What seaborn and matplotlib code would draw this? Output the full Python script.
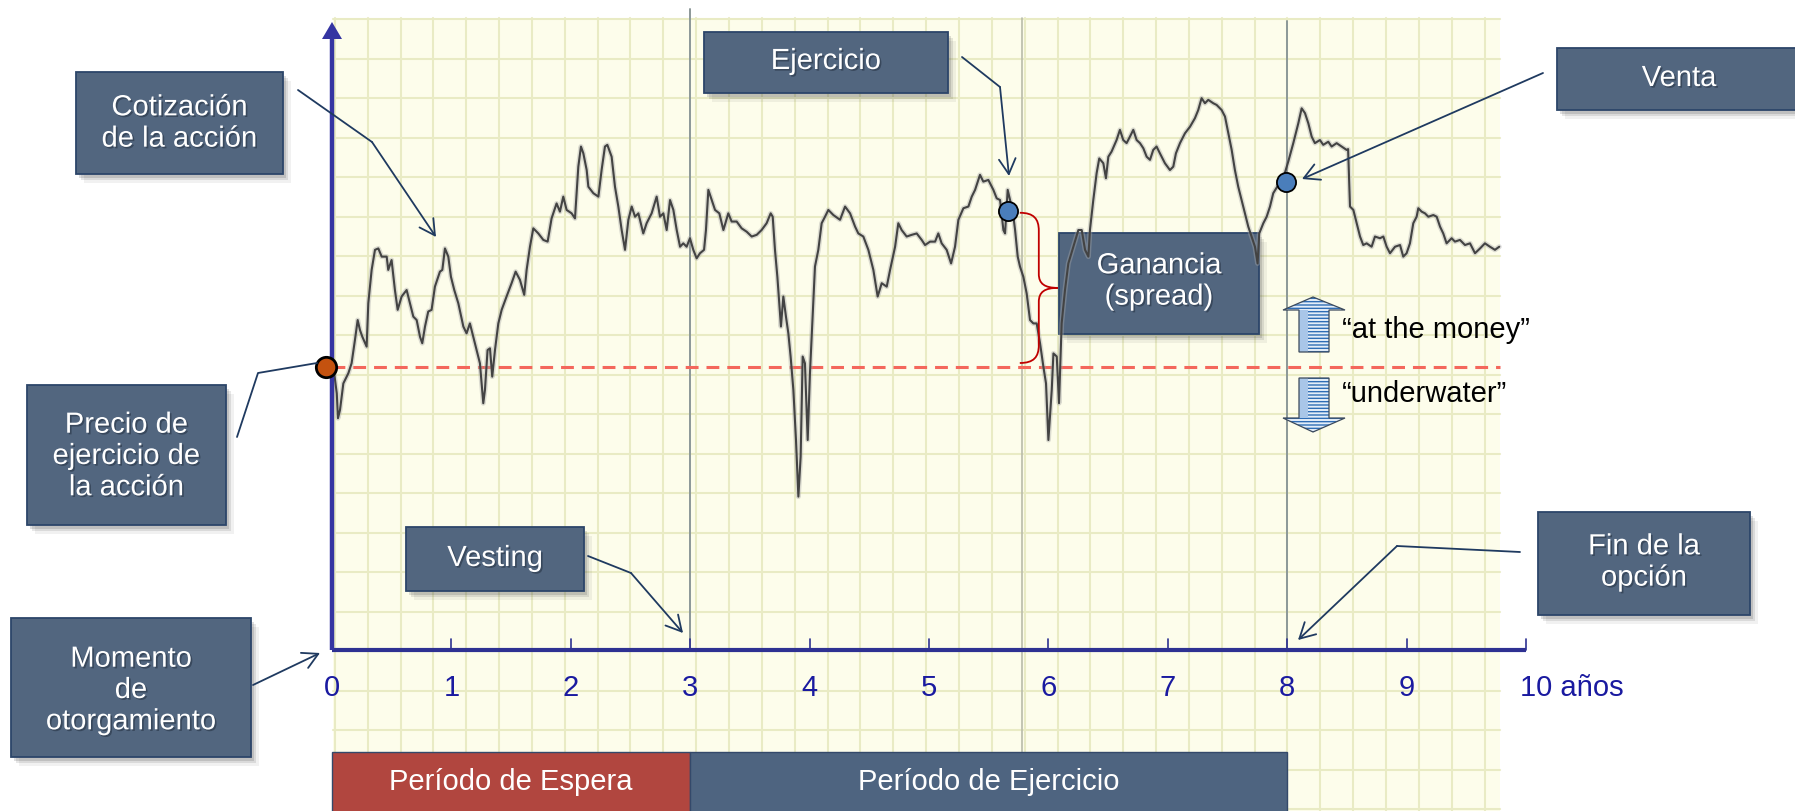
import numpy as np
import pandas as pd
import matplotlib
matplotlib.use("Agg")
import matplotlib.pyplot as plt
import seaborn as sns
from matplotlib.patches import Rectangle, Polygon, PathPatch
from matplotlib.path import Path
import matplotlib.patheffects as pe

# ---------------------------------------------------------------- data
years = [
    0.000, 0.020, 0.040, 0.050, 0.067, 0.095, 0.137, 0.164, 0.192, 0.215,
    0.234, 0.254, 0.290, 0.304, 0.332, 0.360, 0.388, 0.416, 0.458, 0.471,
    0.499, 0.527, 0.550, 0.583, 0.625, 0.653, 0.681, 0.709, 0.737, 0.756,
    0.779, 0.806, 0.834, 0.862, 0.904, 0.924, 0.946, 0.974, 0.996, 1.024,
    1.058, 1.100, 1.127, 1.155, 1.183, 1.211, 1.239, 1.253, 1.267, 1.281,
    1.303, 1.323, 1.342, 1.365, 1.393, 1.421, 1.462, 1.504, 1.538, 1.574,
    1.610, 1.630, 1.658, 1.686, 1.728, 1.770, 1.806, 1.839, 1.881, 1.909,
    1.937, 1.965, 2.007, 2.035, 2.063, 2.085, 2.105, 2.133, 2.147, 2.189,
    2.231, 2.258, 2.286, 2.306, 2.342, 2.370, 2.398, 2.426, 2.454, 2.482,
    2.510, 2.538, 2.566, 2.607, 2.635, 2.677, 2.719, 2.747, 2.775, 2.803,
    2.831, 2.859, 2.887, 2.915, 2.942, 2.970, 2.998, 3.026, 3.054, 3.082,
    3.116, 3.132, 3.152, 3.180, 3.208, 3.244, 3.278, 3.319, 3.347, 3.389,
    3.431, 3.473, 3.515, 3.557, 3.598, 3.640, 3.674, 3.691, 3.710, 3.730,
    3.746, 3.760, 3.780, 3.802, 3.822, 3.841, 3.864, 3.886, 3.906, 3.925,
    3.942, 3.961, 3.984, 4.003, 4.023, 4.045, 4.073, 4.101, 4.129, 4.157,
    4.199, 4.255, 4.297, 4.339, 4.381, 4.408, 4.450, 4.492, 4.534, 4.570,
    4.604, 4.646, 4.674, 4.716, 4.743, 4.771, 4.813, 4.855, 4.897, 4.939,
    4.967, 5.009, 5.051, 5.078, 5.106, 5.148, 5.185, 5.218, 5.246, 5.288,
    5.330, 5.358, 5.386, 5.427, 5.455, 5.497, 5.539, 5.567, 5.595, 5.623,
    5.637, 5.659, 5.679, 5.707, 5.721, 5.743, 5.762, 5.790, 5.818, 5.846,
    5.874, 5.902, 5.930, 5.958, 5.980, 6.000, 6.028, 6.042, 6.070, 6.089,
    6.111, 6.139, 6.167, 6.209, 6.251, 6.279, 6.307, 6.335, 6.348, 6.376,
    6.404, 6.426, 6.460, 6.482, 6.502, 6.529, 6.571, 6.599, 6.627, 6.655,
    6.683, 6.711, 6.739, 6.767, 6.795, 6.823, 6.851, 6.878, 6.906, 6.934,
    6.976, 7.018, 7.046, 7.068, 7.102, 7.144, 7.186, 7.227, 7.255, 7.283,
    7.311, 7.339, 7.381, 7.409, 7.451, 7.479, 7.507, 7.535, 7.562, 7.590,
    7.618, 7.646, 7.674, 7.702, 7.730, 7.752, 7.766, 7.800, 7.828, 7.856,
    7.883, 7.925, 7.967, 8.009, 8.051, 8.093, 8.121, 8.149, 8.177, 8.205,
    8.232, 8.274, 8.302, 8.344, 8.372, 8.414, 8.456, 8.498, 8.510, 8.526,
    8.554, 8.582, 8.610, 8.637, 8.665, 8.707, 8.735, 8.777, 8.805, 8.833,
    8.861, 8.903, 8.945, 8.972, 9.000, 9.028, 9.056, 9.084, 9.098, 9.126,
    9.154, 9.182, 9.224, 9.252, 9.280, 9.307, 9.335, 9.377, 9.405, 9.447,
    9.489, 9.531, 9.573, 9.615, 9.656, 9.698, 9.740, 9.776,
]
price = [
    100.0, 97.2, 90.7, 81.9, 84.8, 94.2, 97.8, 101.3, 109.5, 116.6,
    113.1, 110.7, 107.2, 122.5, 134.3, 141.4, 141.9, 139.0, 139.0, 134.3,
    137.8, 127.2, 120.2, 124.9, 127.2, 122.5, 117.8, 116.6, 110.7, 108.4,
    114.3, 119.6, 120.2, 128.4, 133.7, 134.3, 141.9, 139.0, 131.9, 127.2,
    122.5, 114.3, 111.9, 115.4, 110.7, 106.0, 101.3, 94.2, 87.2, 91.9,
    106.0, 106.6, 96.6, 106.0, 115.4, 120.2, 124.9, 129.6, 133.7, 130.8,
    125.5, 134.3, 142.5, 149.0, 147.2, 144.9, 144.3, 152.5, 157.8, 154.9,
    160.2, 155.5, 154.3, 152.5, 170.8, 177.9, 175.5, 169.6, 163.7, 161.4,
    160.2, 169.6, 177.9, 178.5, 174.3, 163.7, 156.7, 148.4, 141.4, 152.0,
    156.7, 153.1, 154.3, 147.2, 150.8, 154.3, 160.2, 153.1, 154.3, 148.4,
    159.0, 155.5, 148.4, 142.5, 143.7, 142.5, 145.5, 141.4, 138.4, 140.2,
    141.4, 148.4, 162.6, 159.0, 155.5, 154.3, 148.4, 154.3, 151.4, 151.4,
    149.0, 147.8, 146.1, 146.7, 148.4, 150.8, 154.3, 153.1, 141.4, 131.9,
    122.5, 114.3, 124.9, 117.8, 111.9, 103.7, 91.9, 74.2, 54.2, 68.3,
    103.7, 101.3, 74.2, 97.8, 115.4, 135.5, 141.4, 150.8, 153.1, 155.5,
    153.7, 152.0, 156.7, 154.3, 149.6, 147.2, 146.1, 141.4, 134.3, 124.9,
    129.6, 128.4, 134.3, 142.5, 150.8, 148.4, 146.1, 146.7, 147.2, 144.9,
    143.1, 144.3, 144.3, 147.2, 143.7, 141.4, 136.6, 142.5, 152.0, 156.1,
    156.7, 160.2, 162.6, 167.9, 165.5, 166.1, 162.6, 159.6, 159.0, 148.4,
    147.2, 162.6, 159.0, 153.1, 148.4, 139.0, 135.5, 131.9, 126.0, 116.6,
    115.4, 115.4, 108.4, 100.1, 94.2, 74.2, 91.9, 104.8, 103.7, 87.2,
    115.4, 127.2, 136.6, 142.5, 148.4, 148.4, 141.4, 139.0, 148.4, 159.0,
    168.5, 173.7, 172.0, 166.7, 174.3, 176.1, 180.2, 183.8, 180.2, 179.1,
    181.4, 183.8, 180.2, 179.1, 177.3, 174.3, 173.2, 176.7, 177.9, 175.5,
    172.0, 169.6, 170.8, 175.5, 179.1, 182.6, 184.9, 187.9, 190.8, 195.0,
    193.2, 194.4, 193.2, 192.6, 190.8, 188.5, 182.6, 176.7, 169.6, 163.7,
    159.0, 154.3, 149.6, 146.1, 142.5, 136.6, 147.2, 150.8, 153.1, 156.7,
    161.4, 164.3, 166.7, 172.6, 179.1, 186.1, 191.4, 189.7, 186.1, 181.4,
    179.1, 180.2, 178.5, 179.6, 177.9, 179.1, 177.9, 176.7, 177.0, 156.7,
    155.5, 150.8, 146.1, 143.1, 143.7, 142.5, 146.1, 145.5, 146.1, 142.5,
    140.2, 142.5, 143.1, 139.0, 140.2, 143.7, 150.8, 153.1, 156.1, 154.9,
    154.3, 153.1, 153.7, 153.1, 149.6, 147.2, 143.7, 145.5, 144.3, 144.9,
    143.1, 143.7, 140.2, 141.9, 143.7, 142.5, 141.4, 142.5,
]

strike_price = 100.0
event_years = [5.66, 7.99]          # ejercicio, venta
event_prices = [155.2, 165.5]
vesting_year = 3
option_end_year = 8
axis_end_year = 10

tick_years = list(range(0, 10))
tick_labels = [str(v) for v in tick_years]
last_tick_label = "10 años"

period_labels = ["Período de Espera", "Período de Ejercicio"]
period_start = [0, 3]
period_end = [3, 8]

# ---------------------------------------------------------------- canvas
W, H = 1795, 811
sns.set_style("white")
plt.rcParams["font.family"] = ["Liberation Sans", "DejaVu Sans"]
plt.rcParams["hatch.linewidth"] = 1.0

fig = plt.figure(figsize=(W / 100, H / 100), dpi=100)
ax = fig.add_axes([0, 0, 1, 1])

X0, PX_PER_YEAR = 332, 119.4     # pixel column of year 0, pixels per year
Y0, PX_PER_UNIT = 650, 2.83      # pixel row of the time axis, pixels per price unit


def d(xp, yp):
    """Pixel position on the canvas -> data coordinates."""
    return ((xp - X0) / PX_PER_YEAR, (Y0 - yp) / PX_PER_UNIT)


def dx(w):
    return w / PX_PER_YEAR


def dy(h):
    return h / PX_PER_UNIT


NAVY = "#1F3A60"
BOX = "#52667F"
BOX_EDGE = "#2C4569"
AXIS = "#2E3192"

# ---------------------------------------------------------------- graph paper
paper_l, paper_r, paper_t, paper_b = 333, 1500, 18, 811
ax.add_patch(Rectangle(d(paper_l, paper_b), dx(paper_r - paper_l), dy(paper_b - paper_t),
                       fc="#FDFDEB", ec="none", zorder=0))
for xp in np.arange(334.8, paper_r, 32.85):
    ax.plot([d(xp, 0)[0]] * 2, [d(0, paper_b)[1], d(0, paper_t)[1]],
            color="#E9EBC4", lw=1.5, zorder=0.5)
for yp in np.arange(19.3, paper_b, 39.5):
    ax.plot([d(paper_l, 0)[0], d(paper_r, 0)[0]], [d(0, yp)[1]] * 2,
            color="#E9EBC4", lw=1.5, zorder=0.5)
ax.plot([d(1022, 0)[0]] * 2, [d(0, paper_b)[1], d(0, paper_t)[1]],
        color="#B9BCAA", lw=1.2, zorder=0.6)

# vesting date and end of the option
ax.plot([vesting_year] * 2, [0, d(0, 9)[1]], color="#8C9898", lw=1.4, zorder=0.7)
ax.plot([option_end_year] * 2, [0, d(0, 21)[1]], color="#8C9898", lw=1.4, zorder=0.7)

# strike price
ax.plot([0, d(paper_r, 0)[0]], [strike_price] * 2, color="#F4675C", lw=2.2,
        dashes=(4.2, 2.6), zorder=3)


# ---------------------------------------------------------------- boxes
def box(x0, y0, x1, y1, text, tx=None, ty=None, fc=BOX, z=4):
    for off, a in ((3, 0.16), (5, 0.12), (8, 0.07)):
        ax.add_patch(Rectangle(d(x0 + off, y1 + off + 1), dx(x1 - x0), dy(y1 - y0),
                               fc="#3A3A3A", ec="none", alpha=a, zorder=z - 0.1))
    ax.add_patch(Rectangle(d(x0, y1), dx(x1 - x0), dy(y1 - y0),
                           fc=fc, ec=BOX_EDGE, lw=1.3, zorder=z))
    tx = (x0 + x1) / 2 if tx is None else tx
    ty = (y0 + y1) / 2 if ty is None else ty
    ax.text(*d(tx, ty), text, ha="center", va="center", color="white", fontsize=21,
            linespacing=1.15, zorder=z + 0.1,
            path_effects=[pe.withSimplePatchShadow(offset=(1.2, -1.2),
                                                   shadow_rgbFace="#1A2433", alpha=0.45)])


box(76, 72, 283, 174, "Cotización\nde la acción")
box(27, 385, 226, 525, "Precio de\nejercicio de\nla acción", ty=456)
box(11, 618, 251, 757, "Momento\nde\notorgamiento", ty=690)
box(704, 32, 948, 93, "Ejercicio", ty=61)
box(406, 527, 584, 591, "Vesting", ty=558)
box(1059, 233, 1259, 334, "Ganancia\n(spread)", ty=281)
box(1557, 48, 1810, 110, "Venta", tx=1679, ty=78)
box(1538, 512, 1750, 615, "Fin de la\nopción", tx=1644, ty=562)

# ---------------------------------------------------------------- period bars
bar_top, bar_bot = 752, 835
ax.barh(y=[d(0, (bar_top + bar_bot) / 2)[1]] * 2,
        width=np.subtract(period_end, period_start), left=period_start,
        height=dy(bar_bot - bar_top), color=["#B1463F", "#4E6480"],
        edgecolor="#34496A", linewidth=1.0, zorder=4)
for lab, s, e in zip(period_labels, period_start, period_end):
    ax.text((s + e) / 2, d(0, 782)[1], lab, ha="center", va="center", color="white",
            fontsize=21, zorder=5)

# ---------------------------------------------------------------- price series
df = pd.DataFrame({"year": years, "price": price})
sns.lineplot(data=df, x="year", y="price", ax=ax, color="#A8A8A8", lw=3.6, alpha=0.4,
             estimator=None, sort=False, zorder=5)
sns.lineplot(data=df, x="year", y="price", ax=ax, color="#434343", lw=1.5,
             estimator=None, sort=False, zorder=6)

# ---------------------------------------------------------------- axes
ax.plot([0, axis_end_year], [0, 0], color=AXIS, lw=3.0, solid_capstyle="butt", zorder=7)
for t in list(range(1, axis_end_year + 1)):
    ax.plot([t, t], [0, dy(11)], color=AXIS, lw=1.2, zorder=7)
ax.plot([0, 0], [0, d(0, 38)[1]], color="#3535A2", lw=3.2, solid_capstyle="butt", zorder=7)
ax.add_patch(Polygon([d(322, 39), d(342, 39), d(332, 22)], closed=True,
                     fc="#3535A2", ec="none", zorder=7))

for t, lab in zip(tick_years, tick_labels):
    ax.text(t, d(0, 688)[1], lab, ha="center", va="center", color="#1A1AA0",
            fontsize=21, zorder=7)
ax.text(d(1520, 0)[0], d(0, 688)[1], last_tick_label, ha="left", va="center",
        color="#1A1AA0", fontsize=21, zorder=7)

# ---------------------------------------------------------------- markers
sns.scatterplot(x=[-0.05], y=[strike_price], ax=ax, s=215, color="#C4520F",
                edgecolor="black", linewidth=2.0, zorder=9, legend=False)
sns.scatterplot(x=event_years, y=event_prices, ax=ax, s=190, color="#4A7EBB",
                edgecolor="black", linewidth=1.3, zorder=9, legend=False)

# spread brace between the exercise price and the strike
xb = event_years[0] + dx(12)
xm = xb + dx(19)
xt = xb + dx(38)
ytop = event_prices[0] - dy(2)
ybot = strike_price + dy(4)
ymid = (ytop + ybot) / 2
verts = [(xb, ytop), (xb + dx(14), ytop), (xm, ytop - dy(6)), (xm, ytop - dy(18)),
         (xm, ymid + dy(14)),
         (xm, ymid + dy(4)), (xm + dx(6), ymid), (xt, ymid),
         (xm + dx(6), ymid), (xm, ymid - dy(4)), (xm, ymid - dy(14)),
         (xm, ybot + dy(18)),
         (xm, ybot + dy(6)), (xb + dx(14), ybot), (xb, ybot)]
codes = [Path.MOVETO, Path.CURVE4, Path.CURVE4, Path.CURVE4, Path.LINETO,
         Path.CURVE4, Path.CURVE4, Path.CURVE4,
         Path.CURVE4, Path.CURVE4, Path.CURVE4, Path.LINETO,
         Path.CURVE4, Path.CURVE4, Path.CURVE4]
ax.add_patch(PathPatch(Path(verts, codes), fc="none", ec="#C00000", lw=1.3, zorder=8))


# ---------------------------------------------------------------- callout arrows
def callout(points, head=True):
    pts = [d(*p) for p in points]
    body = pts[:-1] if head else pts
    if len(body) > 1:
        ax.plot([p[0] for p in body], [p[1] for p in body], color=NAVY, lw=1.3,
                zorder=10, solid_capstyle="round")
    if head:
        ax.annotate("", xy=pts[-1], xytext=pts[-2], zorder=10,
                    arrowprops=dict(arrowstyle="->,head_length=0.55,head_width=0.3",
                                    color=NAVY, lw=1.3, shrinkA=0, shrinkB=0,
                                    mutation_scale=20))


callout([(298, 90), (372, 142), (436, 237)])
callout([(962, 57), (1000, 87), (1009, 176)])
callout([(1543, 73), (1302, 179)])
callout([(1520, 552), (1397, 546), (1298, 640)])
callout([(588, 556), (631, 573), (683, 633)])
callout([(253, 685), (320, 653)])
callout([(237, 437), (258, 373), (317, 363)], head=False)


# ---------------------------------------------------------------- moneyness arrows
def block_arrow(up):
    if up:
        pts = [(1299, 352), (1299, 310), (1283, 310), (1313, 297), (1345, 310),
               (1329, 310), (1329, 352)]
    else:
        pts = [(1299, 378), (1299, 418), (1283, 418), (1313, 432), (1345, 418),
               (1329, 418), (1329, 378)]
    poly = [d(*p) for p in pts]
    ax.add_patch(Polygon(poly, closed=True, fc="#E4EEF9", ec="none", zorder=7))
    ax.add_patch(Polygon(poly, closed=True, fc="none", ec="#2F6DB5", lw=0,
                         hatch="-----", zorder=7.1))
    strip = [(1299, pts[0][1]), (1299, pts[1][1]), (1308, pts[1][1]), (1308, pts[0][1])]
    ax.add_patch(Polygon([d(*p) for p in strip], closed=True, fc="#A9C6E8", ec="none",
                         zorder=7.2))
    ax.add_patch(Polygon(poly, closed=True, fc="none", ec="#3C4A5C", lw=0.9, zorder=7.3))


block_arrow(True)
block_arrow(False)
ax.text(*d(1342, 330), "\u201cat the money\u201d", ha="left", va="center",
        color="black", fontsize=21, zorder=8)
ax.text(*d(1342, 394), "\u201cunderwater\u201d", ha="left", va="center",
        color="black", fontsize=21, zorder=8)

# ---------------------------------------------------------------- finish
ax.set_xlim(-X0 / PX_PER_YEAR, (W - X0) / PX_PER_YEAR)
ax.set_ylim((Y0 - H) / PX_PER_UNIT, Y0 / PX_PER_UNIT)
ax.axis("off")
fig.savefig("out.png", dpi=100, facecolor="white")
